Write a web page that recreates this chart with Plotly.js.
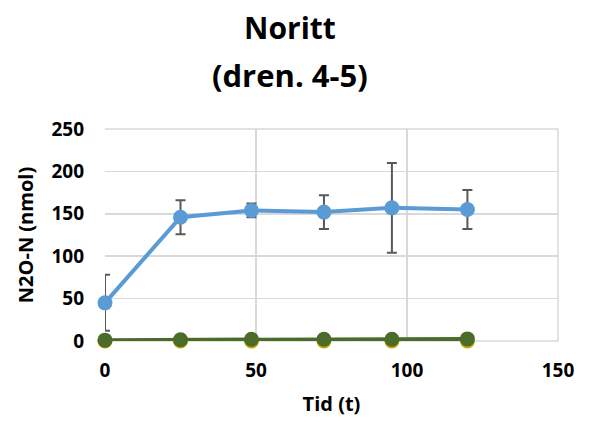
<!DOCTYPE html>
<html>
<head>
<meta charset="utf-8">
<script src="https://cdn.plot.ly/plotly-3.0.1.min.js"></script>
<style>html,body{margin:0;padding:0;background:#fff;}#chart{width:590px;height:424px;}</style>
</head>
<body>
<div id="chart"></div>
<script>
const timeHours = [0, 25, 48.5, 72.5, 95, 120];
const blueValues = [45, 146, 154, 152, 157, 155];
const blueErrors = [33, 20, 8, 20, 53, 23];
const yellowValues = [0, 0, 0, 0, 0, 0];
const greenValues = [1, 1.5, 2, 2, 2, 2.5];
const xTicks = [0, 50, 100, 150];
const yTicks = [0, 50, 100, 150, 200, 250];
const titleLine1 = 'Noritt';
const titleLine2 = '(dren. 4-5)';

const fontFam = "'Open Sans', 'Liberation Sans', sans-serif";
const traces = [
  {x: timeHours, y: yellowValues, mode: 'lines+markers', cliponaxis: false, line: {color: '#c9a800', width: 4}, marker: {color: '#c9a800', size: 15}},
  {x: timeHours, y: greenValues, mode: 'lines+markers', cliponaxis: false, line: {color: '#4a6b2a', width: 4}, marker: {color: '#4a6b2a', size: 15}},
  {x: timeHours, y: blueValues, mode: 'lines+markers', cliponaxis: false, line: {color: '#5b9bd5', width: 4}, marker: {color: '#5b9bd5', size: 15},
   error_y: {type: 'data', array: blueErrors, visible: true, color: '#595959', thickness: 2, width: 5}}
];
const layout = {
  width: 590, height: 424,
  margin: {l: 105, r: 32, t: 129, b: 83},
  showlegend: false,
  paper_bgcolor: '#fff', plot_bgcolor: '#fff',
  title: {text: titleLine1, xref: 'container', x: 290 / 590, xanchor: 'center', yref: 'container', y: 1 - 28/424, yanchor: 'middle',
          font: {family: fontFam, size: 30, color: '#000', weight: 'bold'}},
  annotations: [{text: titleLine2, xref: 'paper', yref: 'paper', x: (290 - 105) / 453, xanchor: 'center',
                 y: (341 - 75) / 212, yanchor: 'middle', showarrow: false,
                 font: {family: fontFam, size: 31, color: '#000', weight: 'bold'}}],
  xaxis: {range: [0, 150], tickvals: xTicks, ticktext: xTicks.map(String), showgrid: true, gridcolor: '#d9d9d9', gridwidth: 1.5,
          zeroline: false, showline: false, ticks: '', ticklen: 0, ticklabelstandoff: 16,
          tickfont: {family: fontFam, size: 19, color: '#000', weight: 'bold'},
          title: {text: 'Tid (t)', font: {family: fontFam, size: 20, color: '#000', weight: 'bold'}, standoff: 14},
          automargin: false},
  yaxis: {range: [0, 250], tickvals: yTicks, ticktext: yTicks.map(String), showgrid: true, gridcolor: '#d9d9d9', gridwidth: 1.5,
          zeroline: false, showline: false, ticks: '', ticklen: 0, ticklabelstandoff: 20,
          tickfont: {family: fontFam, size: 19, color: '#000', weight: 'bold'},
          title: {text: 'N2O-N (nmol)', font: {family: fontFam, size: 20, color: '#000', weight: 'bold'}, standoff: 12},
          automargin: false},
  shapes: [{type: 'line', xref: 'paper', yref: 'paper', x0: 1, x1: 1, y0: 0, y1: 1, line: {color: '#d9d9d9', width: 1.5}, layer: 'below'},
           {type: 'line', xref: 'paper', yref: 'paper', x0: 0, x1: 1, y0: 1, y1: 1, line: {color: '#d9d9d9', width: 1.5}, layer: 'below'},
           {type: 'line', xref: 'paper', yref: 'paper', x0: 0, x1: 1, y0: 0, y1: 0, line: {color: '#d9d9d9', width: 1.5}, layer: 'below'}]
};
Plotly.newPlot('chart', traces, layout, {displayModeBar: false, staticPlot: true});
</script>
</body>
</html>
